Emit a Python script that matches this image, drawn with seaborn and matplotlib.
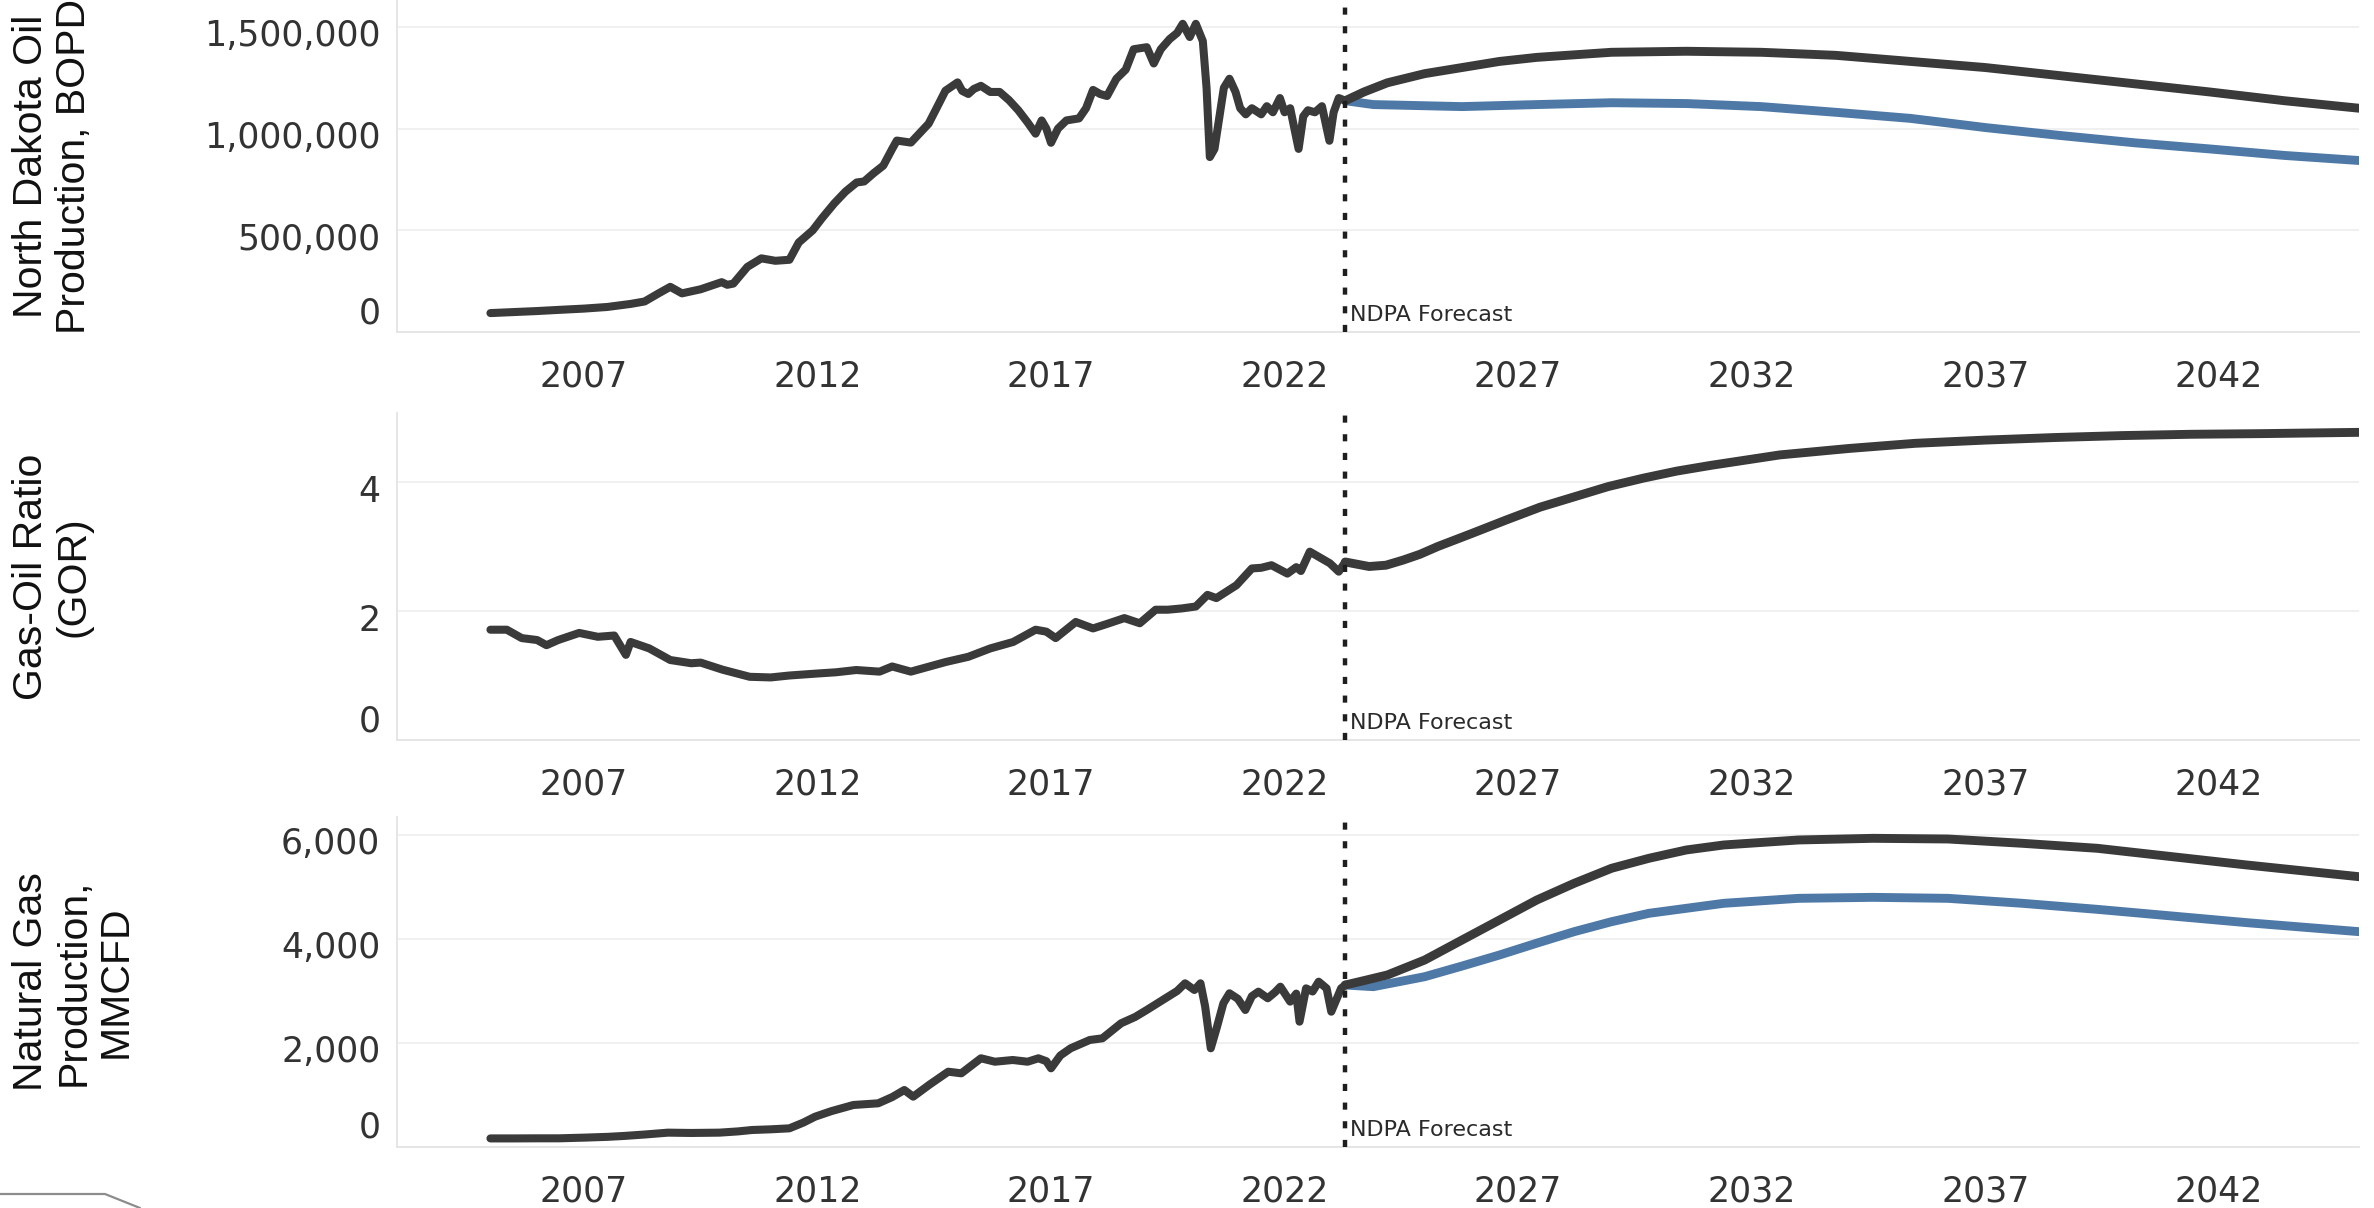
import numpy as np
import pandas as pd
import seaborn as sns
import matplotlib.pyplot as plt
from matplotlib.lines import Line2D
from matplotlib.transforms import ScaledTranslation
from matplotlib.ticker import FuncFormatter

# ---------------- data ---------------- #
oil_hist_year = [2005.0, 2005.5, 2006.0, 2006.4, 2007.0, 2007.5, 2008.0, 2008.3, 2008.6, 2008.85,
                 2009.1, 2009.3, 2009.5, 2009.95, 2010.07, 2010.2, 2010.5, 2010.8, 2011.1, 2011.4,
                 2011.6, 2011.9, 2012.1, 2012.36, 2012.6, 2012.84, 2013.0, 2013.2, 2013.41, 2013.6,
                 2013.7, 2014.0, 2014.2, 2014.38, 2014.55, 2014.74, 2015.0, 2015.1, 2015.23, 2015.35,
                 2015.5, 2015.7, 2015.9, 2016.1, 2016.3, 2016.5, 2016.67, 2016.8, 2016.9, 2017.0,
                 2017.15, 2017.33, 2017.6, 2017.75, 2017.9, 2018.05, 2018.2, 2018.4, 2018.6, 2018.77,
                 2019.05, 2019.2, 2019.35, 2019.54, 2019.7, 2019.82, 2019.97, 2020.1, 2020.25, 2020.33,
                 2020.4, 2020.5, 2020.6, 2020.7, 2020.82, 2020.95, 2021.05, 2021.17, 2021.3, 2021.5,
                 2021.62, 2021.75, 2021.9, 2022.0, 2022.12, 2022.3, 2022.4, 2022.5, 2022.65, 2022.8,
                 2022.96, 2023.05, 2023.16, 2023.3]
oil_hist = [93e3, 98e3, 103e3, 108e3, 115e3, 123e3, 138e3, 150e3, 190e3, 222e3,
            190e3, 200e3, 210e3, 245e3, 232e3, 238e3, 320e3, 362e3, 350e3, 355e3,
            440e3, 500e3, 560e3, 632e3, 690e3, 735e3, 740e3, 780e3, 818e3, 900e3,
            941e3, 931e3, 980e3, 1024e3, 1100e3, 1186e3, 1227e3, 1185e3, 1170e3, 1195e3,
            1210e3, 1180e3, 1180e3, 1140e3, 1090e3, 1030e3, 975e3, 1040e3, 1000e3, 930e3,
            1000e3, 1040e3, 1050e3, 1100e3, 1190e3, 1170e3, 1160e3, 1245e3, 1290e3, 1390e3,
            1400e3, 1320e3, 1390e3, 1440e3, 1470e3, 1515e3, 1450e3, 1515e3, 1430e3, 1200e3,
            860e3, 900e3, 1050e3, 1200e3, 1245e3, 1180e3, 1100e3, 1070e3, 1100e3, 1070e3,
            1110e3, 1080e3, 1150e3, 1080e3, 1100e3, 900e3, 1060e3, 1090e3, 1080e3, 1110e3,
            940e3, 1080e3, 1150e3, 1137e3]

oil_fc_year = [2023.3, 2023.7, 2024.2, 2025.0, 2025.8, 2026.6, 2027.4, 2029.0, 2030.6, 2032.2,
               2033.8, 2035.4, 2037.0, 2038.6, 2040.2, 2041.8, 2043.4, 2045.0]
oil_fc_high = [1137e3, 1180e3, 1225e3, 1270e3, 1300e3, 1330e3, 1350e3, 1375e3, 1380e3, 1375e3,
               1360e3, 1330e3, 1300e3, 1260e3, 1220e3, 1180e3, 1137e3, 1100e3]
oil_fc_low_year = [2023.3, 2023.9, 2025.8, 2027.4, 2029.0, 2030.6, 2032.2, 2033.8, 2035.4,
                   2037.0, 2038.6, 2040.2, 2041.8, 2043.4, 2045.0]
oil_fc_low = [1137e3, 1118e3, 1108e3, 1118e3, 1127e3, 1123e3, 1108e3, 1080e3, 1050e3,
              1005e3, 966e3, 930e3, 900e3, 868e3, 843e3]

gor_hist_year = [2005.0, 2005.35, 2005.67, 2006.0, 2006.2, 2006.45, 2006.9, 2007.3, 2007.65, 2007.9,
                 2008.0, 2008.4, 2008.85, 2009.3, 2009.5, 2009.97, 2010.55, 2011.0, 2011.4, 2011.98,
                 2012.4, 2012.83, 2013.33, 2013.6, 2014.0, 2014.4, 2014.75, 2015.23, 2015.7, 2016.19,
                 2016.67, 2016.9, 2017.1, 2017.53, 2017.9, 2018.2, 2018.57, 2018.9, 2019.24, 2019.5,
                 2019.8, 2020.1, 2020.35, 2020.54, 2020.97, 2021.3, 2021.5, 2021.72, 2022.06, 2022.25,
                 2022.35, 2022.54, 2022.97, 2023.16, 2023.3]
gor_hist = [1.71, 1.71, 1.58, 1.55, 1.47, 1.55, 1.66, 1.60, 1.62, 1.32,
            1.52, 1.42, 1.24, 1.19, 1.20, 1.09, 0.98, 0.97, 1.00, 1.03,
            1.05, 1.085, 1.06, 1.14, 1.06, 1.14, 1.21, 1.29, 1.42, 1.52,
            1.71, 1.68, 1.58, 1.83, 1.73, 1.80, 1.89, 1.81, 2.02, 2.02,
            2.04, 2.07, 2.25, 2.20, 2.40, 2.66, 2.67, 2.71, 2.58, 2.68,
            2.62, 2.92, 2.74, 2.61, 2.76]
gor_fc_year = [2023.3, 2023.81, 2024.17, 2024.54, 2024.9, 2025.28, 2026.0, 2026.74, 2027.47, 2028.2,
               2028.93, 2029.68, 2030.4, 2031.14, 2032.6, 2034.08, 2035.5, 2037.0, 2038.5, 2039.94,
               2041.4, 2042.9, 2045.0]
gor_fc = [2.76, 2.69, 2.71, 2.79, 2.88, 3.00, 3.20, 3.41, 3.61, 3.77,
          3.93, 4.06, 4.17, 4.26, 4.42, 4.52, 4.60, 4.65, 4.69, 4.72,
          4.74, 4.75, 4.77]

gas_hist_year = [2005.0, 2005.5, 2006.0, 2006.47, 2007.0, 2007.5, 2007.85, 2008.3, 2008.8, 2009.3,
                 2009.9, 2010.3, 2010.6, 2011.0, 2011.4, 2011.7, 2011.95, 2012.3, 2012.77, 2013.3,
                 2013.6, 2013.86, 2014.05, 2014.4, 2014.8, 2015.08, 2015.5, 2015.8, 2016.18, 2016.5,
                 2016.73, 2016.9, 2017.0, 2017.2, 2017.42, 2017.83, 2018.1, 2018.5, 2018.8, 2019.05,
                 2019.45, 2019.7, 2019.87, 2020.07, 2020.2, 2020.3, 2020.42, 2020.55, 2020.69, 2020.82,
                 2021.0, 2021.16, 2021.3, 2021.44, 2021.64, 2021.8, 2021.91, 2022.12, 2022.25, 2022.32,
                 2022.46, 2022.6, 2022.73, 2022.9, 2023.0, 2023.21, 2023.3]
gas_hist = [165, 165, 167, 167, 180, 195, 212, 240, 276, 270,
            276, 300, 327, 340, 359, 470, 583, 690, 808, 840,
            960, 1096, 968, 1200, 1448, 1417, 1706, 1640, 1673, 1640,
            1706, 1650, 1513, 1760, 1898, 2058, 2090, 2379, 2500, 2635,
            2860, 3000, 3148, 3019, 3148, 2700, 1898, 2300, 2763, 2956,
            2850, 2635, 2900, 2987, 2860, 2980, 3083, 2795, 2950, 2410,
            3051, 2990, 3179, 3050, 2602, 3051, 3115]
gas_fc_year = [2023.3, 2023.7, 2024.2, 2025.0, 2025.8, 2026.6, 2027.4, 2028.2, 2029.0, 2029.8,
               2030.6, 2031.4, 2033.0, 2034.6, 2036.2, 2037.8, 2039.4, 2041.0, 2042.6, 2045.0]
gas_fc_high = [3115, 3200, 3308, 3596, 3981, 4365, 4750, 5071, 5360, 5552,
               5712, 5808, 5904, 5936, 5923, 5840, 5744, 5583, 5423, 5198]
gas_fc_low_year = [2023.3, 2023.9, 2025.0, 2025.8, 2026.6, 2027.4, 2028.2, 2029.0, 2029.8, 2030.6,
                   2031.4, 2033.0, 2034.6, 2036.2, 2037.8, 2039.4, 2041.0, 2042.6, 2045.0]
gas_fc_low = [3115, 3083, 3275, 3480, 3692, 3920, 4141, 4333, 4494, 4590,
              4686, 4782, 4801, 4782, 4686, 4570, 4442, 4314, 4141]

forecast_start = 2023.3
year_ticks = [2007, 2012, 2017, 2022, 2027, 2032, 2037, 2042]

DARK = "#3a3a3a"
BLUE = "#4e79a7"

sns.set_theme(style="white")
plt.rcParams["font.family"] = ["DejaVu Sans"]

W, H = 2374, 1208
fig = plt.figure(figsize=(W / 100, H / 100), dpi=100)


def px_axes(top, bottom):
    left, right = 397, 2359
    return fig.add_axes([left / W, 1 - bottom / H, (right - left) / W, (bottom - top) / H])


panels = [
    dict(top=0, bottom=332, ylim=1.632e6, yticks=[0, 500000, 1000000, 1500000],
         title="North Dakota Oil\nProduction, BOPD",
         hist=(oil_hist_year, oil_hist),
         fc=[(oil_fc_low_year, oil_fc_low, BLUE), (oil_fc_year, oil_fc_high, DARK)]),
    dict(top=413, bottom=740, ylim=5.07, yticks=[0, 2, 4],
         title="Gas-Oil Ratio\n(GOR)",
         hist=(gor_hist_year, gor_hist),
         fc=[(gor_fc_year, gor_fc, DARK)]),
    dict(top=817, bottom=1147, ylim=6346, yticks=[0, 2000, 4000, 6000],
         title="Natural Gas\nProduction,\nMMCFD",
         hist=(gas_hist_year, gas_hist),
         fc=[(gas_fc_low_year, gas_fc_low, BLUE), (gas_fc_year, gas_fc_high, DARK)]),
]

for p in panels:
    ax = px_axes(p["top"], p["bottom"])
    for yrs, vals, col in p["fc"]:
        sns.lineplot(x=yrs, y=vals, ax=ax, color=col, linewidth=6.4,
                     solid_capstyle="round", solid_joinstyle="round")
    sns.lineplot(x=p["hist"][0], y=p["hist"][1], ax=ax, color=DARK, linewidth=5.8,
                 solid_capstyle="round", solid_joinstyle="round")

    ax.axvline(forecast_start, color="#1e1e1e", linewidth=3.2, linestyle=(0, (1.6, 2.6)), zorder=5)
    ax.annotate("NDPA Forecast", xy=(forecast_start, 0), xycoords=("data", "axes fraction"),
                xytext=(3.5, 12.5), textcoords="offset points", ha="left", va="center",
                fontsize=16, color="#2a2a2a")

    ax.set_xlim(2003.0, 2045.0)
    ax.set_ylim(0, p["ylim"])
    ax.set_xticks(year_ticks)
    ax.set_xticklabels([str(y) for y in year_ticks])
    ax.set_yticks(p["yticks"])
    ax.yaxis.set_major_formatter(FuncFormatter(lambda v, _: f"{v:,.0f}"))
    ax.set_xlabel("")
    ax.set_ylabel("")

    ax.grid(axis="y", color="#efefef", linewidth=1.3)
    ax.grid(axis="x", visible=False)
    for side in ["top", "right"]:
        ax.spines[side].set_visible(False)
    for side in ["left", "bottom"]:
        ax.spines[side].set_color("#e4e4e4")
        ax.spines[side].set_linewidth(1.3)

    ax.tick_params(axis="x", length=5, width=1, color="#dddddd", pad=15,
                   labelsize=25, labelcolor="#333333")
    ax.tick_params(axis="y", length=0, pad=12, labelsize=25, labelcolor="#333333")

    # Tableau-like label placement: a touch below the gridline, lowest label sits above the axis
    for i, tick in enumerate(ax.yaxis.get_major_ticks()):
        lab = tick.label1
        if i == 0:
            lab.set_verticalalignment("bottom")
            lab.set_transform(lab.get_transform() + ScaledTranslation(0, 0.02, fig.dpi_scale_trans))
        else:
            lab.set_transform(lab.get_transform() + ScaledTranslation(0, -0.06, fig.dpi_scale_trans))

    yc = 1 - (p["top"] + p["bottom"]) / 2 / H
    fig.text(12 / W, yc, p["title"], rotation=90, ha="left", va="center",
             multialignment="center", fontsize=29.5, color="#111111",
             family=["Liberation Sans", "DejaVu Sans"], linespacing=1.15)

# corner fragment of the dashboard frame
fig.add_artist(Line2D([0, 105 / W, 140 / W], [1 - 1194 / H, 1 - 1194 / H, 0],
                      transform=fig.transFigure, color="#8c8c8c", linewidth=1.6))

fig.savefig("out.png", dpi=100)
